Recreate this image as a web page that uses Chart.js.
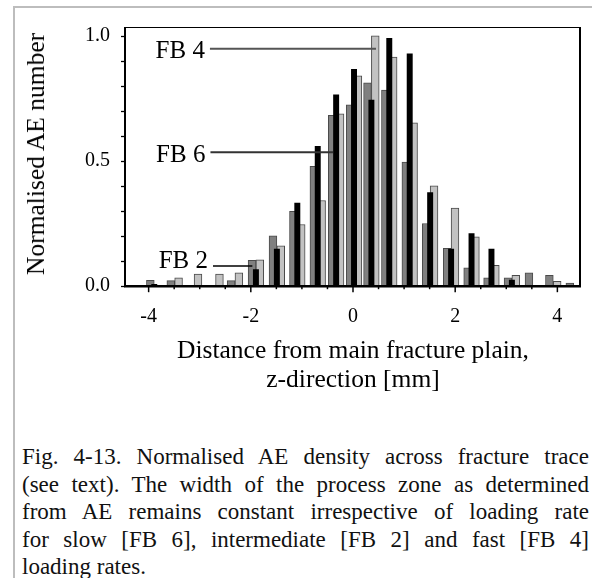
<!DOCTYPE html>
<html>
<head>
<meta charset="utf-8">
<script src="https://cdn.jsdelivr.net/npm/chart.js@4.4.1/dist/chart.umd.min.js"></script>
<style>
  html, body { margin:0; padding:0; background:#fff; }
  body { width:592px; height:578px; position:relative; overflow:hidden; }
  #frame { position:absolute; left:13px; top:6px; width:700px; height:700px;
           border-left:2px solid #bdbdbd; border-top:2px solid #bdbdbd; }
  #wrap { position:absolute; left:0; top:0; width:592px; height:400px; }
  .serif { font-family:"Liberation Serif", serif; color:#000; }
  #ytitle { position:absolute; left:36px; top:154.4px; font-size:25.5px; line-height:30px;
            white-space:nowrap; transform:translate(-50%,-50%) rotate(-90deg); }
  #xtitle { position:absolute; left:153px; width:400px; top:336px; font-size:25.5px; line-height:28.5px;
            text-align:center; white-space:nowrap; }
  #cap { position:absolute; left:22px; top:443px; width:567px;
         font-size:23px; line-height:27.5px; color:#111; }
  #cap div { text-align:justify; text-align-last:justify; white-space:nowrap; }
  #cap div.last { text-align:left; text-align-last:left; }
</style>
</head>
<body>
<div id="frame"></div>
<div id="wrap"><canvas id="c" width="592" height="400"></canvas></div>
<div id="ytitle" class="serif"></div>
<div id="xtitle" class="serif"></div>
<div id="cap" class="serif">
  <div>Fig. 4-13. Normalised AE density across fracture trace</div>
  <div>(see text). The width of the process zone as determined</div>
  <div>from AE remains constant irrespective of loading rate</div>
  <div>for slow [FB 6], intermediate [FB 2] and fast [FB 4]</div>
  <div class="last">loading rates.</div>
</div>
<script>
// ---- data ----
const binCentres = [-3.89, -3.49, -3.11, -2.69, -2.31, -1.90, -1.49, -1.09, -0.69, -0.33, 0.02,
                    0.36, 0.71, 1.11, 1.51, 1.92, 2.32, 2.71, 3.11, 3.52, 3.92, 4.32];
const fb2 = [0.021, 0.020, null, null, 0.020, 0.101, 0.200, 0.298, 0.478, 0.682, 0.724,
             0.812, 0.783, 0.495, 0.249, 0.150, 0.071, 0.031, 0.031, 0.051, 0.041, 0.010];
const fb6 = [0.005, null, null, null, null, 0.064, 0.147, 0.331, 0.558, 0.764, 0.866,
             0.743, 0.990, 0.928, 0.373, 0.147, 0.209, 0.147, 0.022, null, null, null];
const fb4 = [null, 0.031, 0.046, 0.046, 0.051, 0.104, 0.160, 0.245, 0.341, 0.688, 0.840,
             1.000, 0.915, 0.652, 0.400, 0.311, 0.196, 0.081, 0.041, null, 0.017, null];
const seriesNames = ['FB 2', 'FB 6', 'FB 4'];

const xTickValues = [-4, -3.5, -3, -2.5, -2, -1.5, -1, -0.5, 0, 0.5, 1, 1.5, 2, 2.5, 3, 3.5, 4];
const xTickLabels = ['-4', '', '', '', '-2', '', '', '', '0', '', '', '', '2', '', '', '', '4'];
const yTickValues = [0, 0.1, 0.2, 0.3, 0.4, 0.5, 0.6, 0.7, 0.8, 0.9, 1.0];
const yTickLabels = ['0.0', '', '', '', '', '0.5', '', '', '', '', '1.0'];

const xTitle = ['Distance from main fracture plain,', 'z-direction [mm]'];
const yTitle = 'Normalised AE number';

// leader labels (data coordinates)
const leaders = [
  { text: 'FB 4', y: 0.948, x0: -2.80, x1: 0.45, color: '#555', width: 2, dy: 9.5 },
  { text: 'FB 6', y: 0.534, x0: -2.79, x1: -0.39, color: '#333', width: 2, dy: 10 },
  { text: 'FB 2', y: 0.079, x0: -2.74, x1: -1.97, color: '#000', width: 1.5, dy: 1.6 }
];

document.getElementById('ytitle').textContent = yTitle;
document.getElementById('xtitle').innerHTML = xTitle.map(t => '<div>' + t + '</div>').join('');

const toXY = arr => binCentres.map((c, i) => ({ x: c, y: arr[i] }));
const FONT = '"Liberation Serif", serif';

const line = (ctx, x1, y1, x2, y2, w, c) => {
  ctx.strokeStyle = c; ctx.lineWidth = w;
  ctx.beginPath(); ctx.moveTo(x1, y1); ctx.lineTo(x2, y2); ctx.stroke();
};

const axesPlugin = {
  id: 'axesAndLeaders',
  afterDatasetsDraw(chart) {
    const { ctx, chartArea: a, scales: { x, y } } = chart;
    ctx.save();
    // leader lines + labels
    ctx.font = '25px ' + FONT;
    ctx.fillStyle = '#000';
    ctx.textAlign = 'right';
    ctx.textBaseline = 'alphabetic';
    leaders.forEach(l => {
      const py = y.getPixelForValue(l.y);
      const px0 = x.getPixelForValue(l.x0);
      const px1 = x.getPixelForValue(l.x1);
      line(ctx, px0, py, px1, py, l.width, l.color);
      ctx.fillText(l.text, px0 - 5, py + l.dy);
    });
    // plot frame
    line(ctx, a.left, a.top + 0.5, a.right, a.top + 0.5, 1.2, '#000');
    line(ctx, a.right - 1, a.top, a.right - 1, a.bottom, 2, '#000');
    line(ctx, a.left, a.top, a.left, a.bottom + 1, 2, '#000');
    // y ticks
    yTickValues.forEach(v => {
      const py = Math.round(y.getPixelForValue(v)) + 0.5;
      line(ctx, a.left - 4, py, a.left, py, 1.3, '#000');
    });
    // x ticks
    xTickValues.forEach((v, i) => {
      const px = x.getPixelForValue(v);
      line(ctx, px, a.bottom, px, a.bottom + (xTickLabels[i] ? 6.5 : 3.5), 1.5, '#000');
    });
    // x axis line
    line(ctx, a.left - 1, a.bottom + 0.5, a.right, a.bottom + 0.5, 2.6, '#000');
    ctx.restore();
  }
};

new Chart(document.getElementById('c'), {
  type: 'bar',
  data: {
    datasets: [
      { label: seriesNames[1], data: toXY(fb6), backgroundColor: '#000', borderWidth: 0,
        grouped: false, barThickness: 5.3, order: 0 },
      { label: seriesNames[0], data: toXY(fb2), backgroundColor: '#808080', borderColor: '#4a4a4a',
        borderWidth: 1, barThickness: 7.8, order: 1 },
      { label: seriesNames[2], data: toXY(fb4), backgroundColor: '#c2c2c2', borderColor: '#4a4a4a',
        borderWidth: 1, barThickness: 7.8, order: 1 }
    ]
  },
  options: {
    responsive: false,
    animation: false,
    devicePixelRatio: 1,
    layout: { padding: { left: 14, top: 22.7, right: 11, bottom: 0 } },
    plugins: { legend: { display: false }, tooltip: { enabled: false } },
    scales: {
      x: {
        type: 'linear', min: -4.2, max: 4.2,
        afterBuildTicks: s => { s.ticks = xTickValues.map(v => ({ value: v })); },
        afterFit: s => { s.height = 114.3; },
        grid: { display: false, drawTicks: false },
        border: { display: false },
        ticks: { autoSkip: false, maxRotation: 0, padding: 19, color: '#000',
                 font: { family: FONT, size: 20 },
                 callback: (v, i) => xTickLabels[i] }
      },
      y: {
        min: 0, max: 1.035,
        afterBuildTicks: s => { s.ticks = yTickValues.map(v => ({ value: v })); },
        afterFit: s => { s.width = 111; },
        grid: { display: false, drawTicks: false },
        border: { display: false },
        ticks: { autoSkip: false, padding: 15, color: '#000',
                 font: { family: FONT, size: 20 },
                 callback: (v, i) => yTickLabels[i] }
      }
    }
  },
  plugins: [axesPlugin]
});
</script>
</body>
</html>
